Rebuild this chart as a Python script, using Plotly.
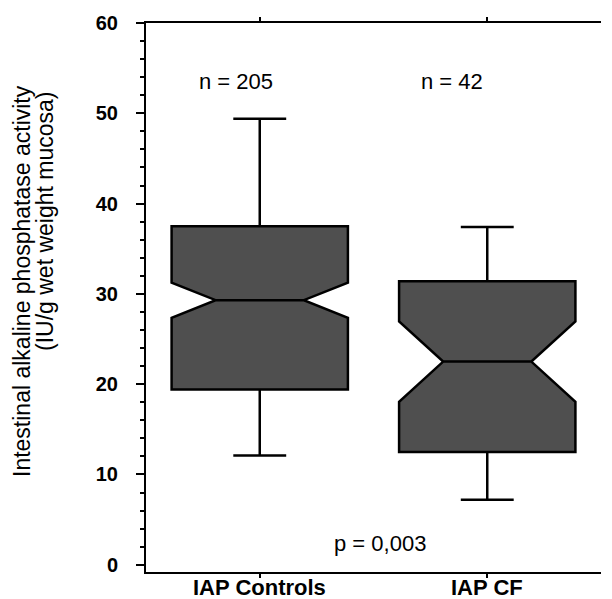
import plotly.graph_objects as go

categories = ["IAP Controls", "IAP CF"]
lower_whisker = [12.1, 7.2]
q1_vals = [19.4, 12.5]
median_vals = [29.3, 22.5]
q3_vals = [37.5, 31.4]
upper_whisker = [49.4, 37.4]
notch_span = [1.95, 4.45]
n_labels = ["n = 205", "n = 42"]
p_label = "p = 0,003"
y_title_1 = "Intestinal alkaline phosphatase activity"
y_title_2 = "(IU/g wet weight mucosa)"
y_ticks = [0, 10, 20, 30, 40, 50, 60]

FONT = "Liberation Sans, Arial, Helvetica, sans-serif"

fig = go.Figure()
fig.add_trace(go.Box(
    x=categories,
    q1=q1_vals, median=median_vals, q3=q3_vals,
    lowerfence=lower_whisker, upperfence=upper_whisker,
    notchspan=notch_span,
    notched=True, notchwidth=0.25,
    width=0.775, whiskerwidth=0.3,
    boxpoints=False,
    fillcolor="#4f4f4f",
    line=dict(color="black", width=2.5),
    showlegend=False,
    hoverinfo="skip",
))

# Plot area: x 146..601, y 23..572 (pixels)
L, R, T, B = 146, 601, 23, 572
W, H = 612, 599

def px(x):
    return (x - L) / (R - L)

def py(y):
    return (B - y) / (B - T)

def ann(text, x, y, size, angle=0):
    return dict(text=text, x=px(x), y=py(y), xref="paper", yref="paper",
                xanchor="center", yanchor="middle", textangle=angle,
                showarrow=False, font=dict(family=FONT, size=size, color="black"))

annotations = [
    ann(n_labels[0], 236, 81, 22),
    ann(n_labels[1], 452, 81, 22),
    ann(p_label, 380, 543, 22),
    ann(y_title_1, 22, 281, 23, -90),
    ann(y_title_2, 45, 222, 23, -90),
]
for cat in categories:
    annotations.append(dict(
        text=cat, x=cat, xref="x", y=py(587), yref="paper",
        xanchor="center", yanchor="middle", showarrow=False,
        font=dict(family=FONT, size=22, color="black", weight="bold")))

fig.update_layout(
    width=W, height=H,
    margin=dict(l=L, r=W - R, t=T, b=H - B, pad=0, autoexpand=False),
    paper_bgcolor="white", plot_bgcolor="white",
    annotations=annotations,
    xaxis=dict(
        type="category", range=[-0.5, 1.5], automargin=False,
        showline=True, linecolor="black", linewidth=2, mirror="ticks",
        ticks="outside", ticklen=4, tickwidth=2, tickcolor="black",
        showticklabels=False,
        showgrid=False, zeroline=False,
    ),
    yaxis=dict(
        range=[-0.8, 60], automargin=False,
        tickvals=y_ticks, ticktext=[str(v) for v in y_ticks],
        showline=True, linecolor="black", linewidth=2,
        ticks="outside", ticklen=8, tickwidth=2, tickcolor="black",
        ticklabelstandoff=14,
        minor=dict(dtick=2, ticks="outside", ticklen=4, tickwidth=2, tickcolor="black", showgrid=False),
        showgrid=False, zeroline=False,
        tickfont=dict(family=FONT, size=20, color="black", weight="bold"),
    ),
    yaxis2=dict(
        range=[-0.8, 60], overlaying="y", side="right", automargin=False,
        showline=True, linecolor="black", linewidth=2,
        ticks="outside", ticklen=8, tickwidth=2, tickcolor="black",
        tick0=0, dtick=2, showticklabels=False,
        showgrid=False, zeroline=False,
    ),
)

fig.write_html("out.html")
